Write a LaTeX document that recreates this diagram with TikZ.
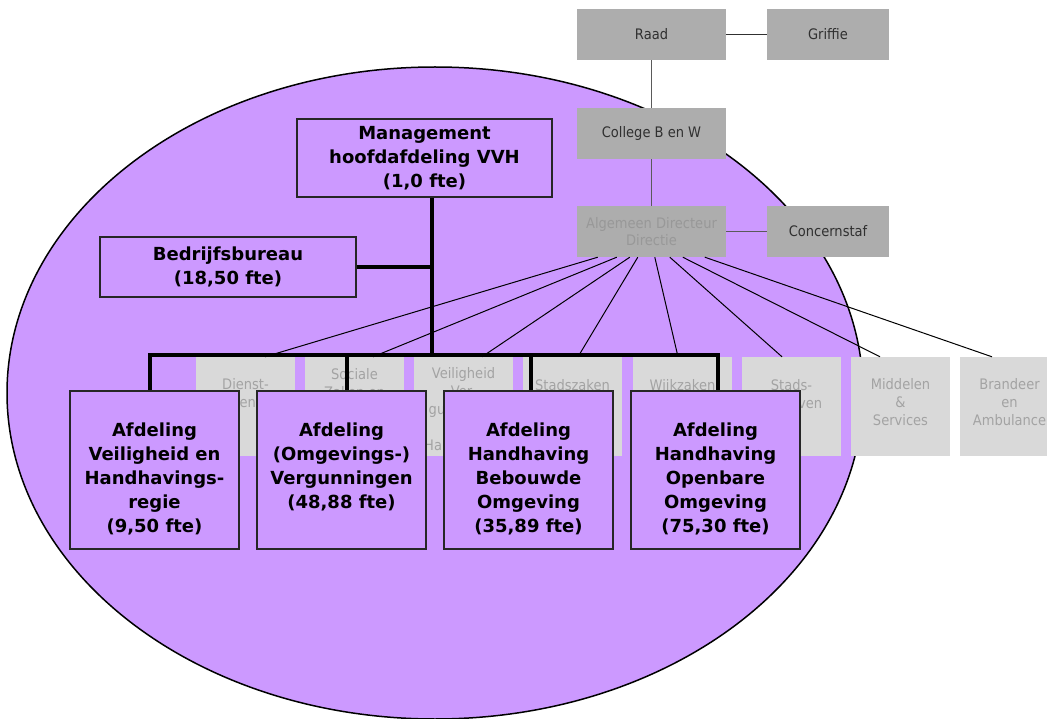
\documentclass[tikz,border=0pt]{standalone}
\usepackage{fontspec}
\setmainfont{DejaVu Sans}
\newfontfamily\regfont{DejaVu Sans}[FakeStretch=0.9]
\definecolor{cOval}{HTML}{CC99FF}
\definecolor{cDark}{HTML}{ADADAD}
\definecolor{cLight}{HTML}{D9D9D9}
\definecolor{cLightText}{HTML}{A3A3A3}
\definecolor{cDirText}{HTML}{989898}
\definecolor{cBoxText}{HTML}{303030}
\definecolor{cLink}{HTML}{5A5A5A}
\begin{document}
\begin{tikzpicture}[x=1pt,y=-1pt,
  darkbox/.style={fill=cDark, draw=none, minimum width=149pt, minimum height=51pt,
    inner sep=0pt, align=center, text=cBoxText, font=\regfont\fontsize{14.5}{17}\selectfont},
  sidebox/.style={darkbox, minimum width=122pt},
  lightbox/.style={fill=cLight, draw=none, minimum width=99pt, minimum height=99pt, inner sep=0pt},
  gtxt/.style={anchor=north, inner sep=0pt, align=center, text=cLightText,
    font=\regfont\fontsize{14.5}{18}\selectfont},
  purplebox/.style={fill=cOval, draw=black!85, line width=1.3pt, inner sep=0pt,
    align=center, font=\bfseries\fontsize{18}{24}\selectfont},
  afdbox/.style={purplebox, minimum width=169pt, minimum height=158pt},
  afdtxt/.style={anchor=north, inner sep=0pt, yshift=-32pt, align=center,
    font=\bfseries\fontsize{18}{24}\selectfont},
  thinlink/.style={draw=black, line width=1pt},
  greylink/.style={draw=cLink, line width=1.5pt},
  boldlink/.style={draw=black, line width=4pt}]

% page and oval
\useasboundingbox (0,0) rectangle (1047,719);
\fill[white] (0,0) rectangle (1047,719);
\filldraw[fill=cOval, draw=black, line width=1.5pt] (435,393) ellipse [x radius=428pt, y radius=326pt];

% municipal organisation
\node[darkbox]  (raad)    at (651.5,34.5)  {Raad};
\node[sidebox]  (griffie) at (828,34.5)    {Griffie};
\node[darkbox]  (college) at (651.5,133.5) {College B en W};
\node[darkbox, text=cDirText] (dir) at (651.5,231.5) {Algemeen Directeur\\Directie};
\node[sidebox]  (concern) at (828,231.5)   {Concernstaf};

\draw[draw=cBoxText, line width=1pt] (raad) -- (griffie);
\draw[greylink] (raad) -- (college);
\draw[greylink] (college) -- (dir);
\draw[greylink] (dir) -- (concern);

\node[lightbox, label={[gtxt,yshift=-21pt]north:Dienst-\\verlening}] (g1) at (245.5,406.5) {};
\node[lightbox, label={[gtxt,yshift=-11pt]north:Sociale\\Zaken en}] (g2) at (354.5,406.5) {};
\node[lightbox, label={[gtxt,yshift=-10pt]north:Veiligheid\\Ver-\\gunningen\\en\\Handhaving}] (g3) at (463.5,406.5) {};
\node[lightbox, label={[gtxt,yshift=-22pt]north:Stadszaken}] (g4) at (572.5,406.5) {};
\node[lightbox, label={[gtxt,yshift=-22pt]north:Wijkzaken}] (g5) at (682.5,406.5) {};
\node[lightbox, label={[gtxt,yshift=-22pt]north:Stads-\\bedrijven}] (g6) at (791.5,406.5) {};
\node[lightbox, label={[gtxt,yshift=-21pt]north:Middelen\\\&\\Services}] (g7) at (900.5,406.5) {};
\node[lightbox, label={[gtxt,yshift=-21pt]north:Brandeer\\en\\Ambulance}] (g8) at (1009.5,406.5) {};

\draw[thinlink] ([xshift=21pt]dir.south west)  -- ([xshift=19.5pt]g1.north);
\draw[thinlink] ([xshift=40pt]dir.south west)  -- ([xshift=18.5pt]g2.north);
\draw[thinlink] ([xshift=53pt]dir.south west)  -- ([xshift=18.5pt]g3.north);
\draw[thinlink] ([xshift=61pt]dir.south west)  -- ([xshift=5.5pt]g4.north);
\draw[thinlink] ([xshift=78pt]dir.south west)  -- ([xshift=-4.5pt]g5.north);
\draw[thinlink] ([xshift=93pt]dir.south west)  -- ([xshift=-9.5pt]g6.north);
\draw[thinlink] ([xshift=106pt]dir.south west) -- ([xshift=-20.5pt]g7.north);
\draw[thinlink] ([xshift=128pt]dir.south west) -- ([xshift=-17.5pt]g8.north);

% main department VVH
\node[purplebox, minimum width=255pt, minimum height=78pt] (mgmt) at (424.5,158)
  {Management\\hoofdafdeling VVH\\(1,0 fte)};
\node[purplebox, minimum width=256pt, minimum height=60pt] (bureau) at (228,267)
  {Bedrijfsbureau\\(18,50 fte)};

\node[afdbox, label={[afdtxt]north:Afdeling\\Veiligheid en\\Handhavings-\\regie\\(9,50 fte)}] (afd1) at (154.5,470) {};
\node[afdbox, label={[afdtxt]north:Afdeling\\(Omgevings-)\\Vergunningen\\(48,88 fte)}] (afd2) at (341.5,470) {};
\node[afdbox, label={[afdtxt]north:Afdeling\\Handhaving\\Bebouwde\\Omgeving\\(35,89 fte)}] (afd3) at (528.5,470) {};
\node[afdbox, label={[afdtxt]north:Afdeling\\Handhaving\\Openbare\\Omgeving\\(75,30 fte)}] (afd4) at (715.5,470) {};

\coordinate (bus) at (432,355);
\draw[boldlink] (mgmt.south -| bus) -- (bus);
\draw[boldlink] (bureau.east) -- (bureau.east -| bus);
\draw[boldlink] (bus) -| ([xshift=-4.5pt]afd1.north);
\draw[boldlink] (bus) -| ([xshift=5.5pt]afd2.north);
\draw[boldlink] (bus) -| ([xshift=2.5pt]afd3.north);
\draw[boldlink] (bus) -| ([xshift=2.5pt]afd4.north);
\end{tikzpicture}
\end{document}
